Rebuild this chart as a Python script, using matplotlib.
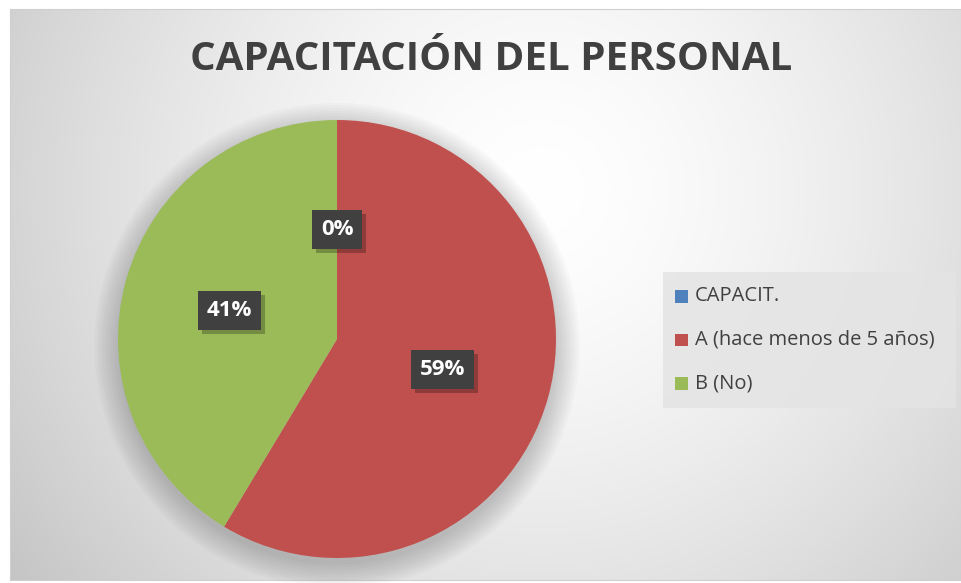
import numpy as np
import matplotlib.pyplot as plt
from matplotlib.patches import Rectangle
import matplotlib.patheffects as pe

categories = ['CAPACIT.', 'A (hace menos de 5 años)', 'B (No)']
values = [0, 17, 12]
colors = ['#4f81bd', '#c0504d', '#9bbb59']
title = 'CAPACITACIÓN DEL PERSONAL'

W, H = 961, 583
fig = plt.figure(figsize=(W / 100, H / 100), dpi=100)
fig.patch.set_facecolor('white')

# chart area, radial gradient background (pixel coords from the top-left)
left, top, right, bottom = 10, 9, 961, 580
bg = fig.add_axes([left / W, 1 - bottom / H, (right - left) / W, (bottom - top) / H])
yy, xx = np.mgrid[top:bottom, left:right]
d = np.hypot(xx - 540, yy - 190)
g = 1 - 0.22 * (d / 640) ** 1.5
g = np.clip(g, 0.76, 1)
bg.imshow(np.dstack([g, g, g]), aspect='auto', extent=(0, 1, 0, 1))
bg.set_xlim(0, 1)
bg.set_ylim(0, 1)
bg.set_xticks([])
bg.set_yticks([])
for s in bg.spines.values():
    s.set_color('#d0d0d0')
    s.set_linewidth(0.8)

# pie
pcx, pcy, pr = 337, H - 339, 219
ax = fig.add_axes([(pcx - pr) / W, (pcy - pr) / H, 2 * pr / W, 2 * pr / H])

# soft shadow under the pie
for k in range(10):
    ax.add_patch(plt.Circle((0, -0.03), 1.0 + 0.012 * k, color='black', alpha=0.02,
                            lw=0, zorder=0, clip_on=False))

wedges, _ = ax.pie(values, colors=colors, startangle=90, counterclock=False,
                   radius=1, wedgeprops=dict(linewidth=0))
for w in wedges:
    w.set_zorder(2)
ax.set_xlim(-1, 1)
ax.set_ylim(-1, 1)
ax.axis('off')

total = sum(values)
label_pos = [(0.0, 0.5), (0.48, -0.14), (-0.49, 0.13)]
for v, (lx, ly) in zip(values, label_pos):
    pct = '%d%%' % round(100 * v / total)
    t = ax.text(lx, ly, pct, ha='center', va='center', color='white', fontsize=16,
                fontweight='bold', family='Open Sans', zorder=5,
                bbox=dict(boxstyle='square,pad=0.4', fc='#404040', ec='none'))
    t.get_bbox_patch().set_path_effects([
        pe.SimplePatchShadow(offset=(3, -3), shadow_rgbFace='black', alpha=0.25),
        pe.Normal()])

# title
fig.text(491 / W, 1 - 60 / H, title, ha='center', va='center', fontsize=29,
         fontweight='bold', color='#404040', family='Open Sans')

# legend
leg_ax = fig.add_axes([663 / W, (H - 408) / H, (956 - 663) / W, (408 - 272) / H])
leg_ax.set_xlim(0, 1)
leg_ax.set_ylim(0, 1)
leg_ax.axis('off')
leg_ax.add_patch(Rectangle((0, 0), 1, 1, fc='#e4e4e4', ec='none', alpha=0.85))
ys = [0.82, 0.5, 0.18]
for c, lab, ly in zip(colors, categories, ys):
    leg_ax.add_patch(Rectangle((0.04, ly - 0.045), 0.045, 0.09, fc=c, ec='none'))
    leg_ax.text(0.11, ly, lab, ha='left', va='center', fontsize=14.5, color='#404040',
                family='Open Sans')

fig.savefig('out.png', dpi=100)
